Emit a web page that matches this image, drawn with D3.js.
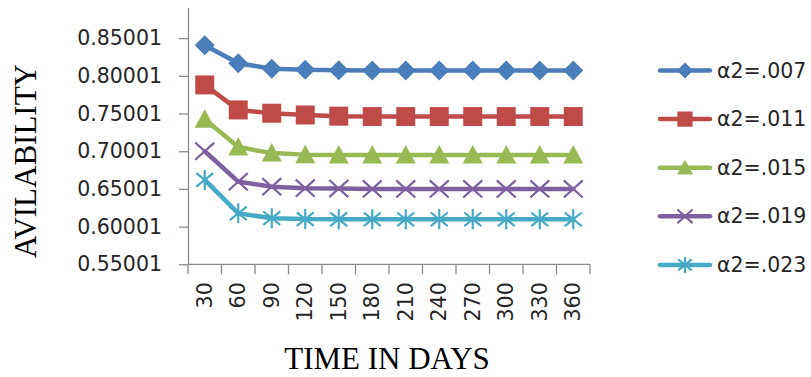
<!DOCTYPE html>
<html>
<head>
<meta charset="utf-8">
<script src="https://cdn.jsdelivr.net/npm/d3@7"></script>
<style>
  html, body { margin: 0; padding: 0; background: #fff; }
  svg { display: block; }
</style>
</head>
<body>
<svg id="chart" width="811" height="377"></svg>
<script>
// Availability over time for five values of α2
const days = [30, 60, 90, 120, 150, 180, 210, 240, 270, 300, 330, 360];
const a007 = [0.8405, 0.8167, 0.8095, 0.8080, 0.8075, 0.8072, 0.8070, 0.8070, 0.8070, 0.8070, 0.8070, 0.8070];
const a011 = [0.7880, 0.7548, 0.7504, 0.7481, 0.7465, 0.7460, 0.7460, 0.7460, 0.7460, 0.7460, 0.7460, 0.7460];
const a015 = [0.7425, 0.7055, 0.6975, 0.6955, 0.6950, 0.6950, 0.6950, 0.6950, 0.6950, 0.6950, 0.6950, 0.6950];
const a019 = [0.7000, 0.6596, 0.6530, 0.6510, 0.6505, 0.6500, 0.6500, 0.6500, 0.6500, 0.6500, 0.6500, 0.6500];
const a023 = [0.6620, 0.6176, 0.6112, 0.6100, 0.6098, 0.6097, 0.6097, 0.6097, 0.6097, 0.6097, 0.6097, 0.6097];
const seriesNames = ["α2=.007", "α2=.011", "α2=.015", "α2=.019", "α2=.023"];
const yTicks = [0.55001, 0.60001, 0.65001, 0.70001, 0.75001, 0.80001, 0.85001];

const seriesValues = [a007, a011, a015, a019, a023];
const colors = ["#4A7EBB", "#BE4B48", "#98B954", "#7D60A0", "#46AAC5"];
const shapes = ["diamond", "square", "triangle", "cross", "star"];

const svg = d3.select("#chart");

const plot = { left: 188, right: 590, top: 8, bottom: 264.3 };

const x = d3.scaleBand().domain(days).range([plot.left, plot.right]).padding(0);
const y = d3.scaleLinear().domain([0.55001, 0.89001]).range([plot.bottom, plot.top]);

const axisColor = "#8A8A8A";
const tickFont = "'DejaVu Sans', sans-serif";

// Y axis
const yAxis = svg.append("g")
  .attr("transform", `translate(${plot.left},0)`)
  .call(d3.axisLeft(y).tickValues(yTicks).tickSize(9).tickPadding(17)
    .tickFormat(d => d.toFixed(5)));
yAxis.select(".domain").remove();
yAxis.append("line")
  .attr("x1", 0.5).attr("x2", 0.5)
  .attr("y1", plot.top).attr("y2", plot.bottom)
  .attr("stroke", axisColor).attr("stroke-width", 1.3);
yAxis.selectAll(".tick line").attr("stroke", axisColor).attr("stroke-width", 1.3);
yAxis.selectAll(".tick text")
  .attr("fill", "#262626")
  .style("font-family", tickFont)
  .style("font-size", "20.5px");

// X axis: ticks sit on the category boundaries
const xAxis = svg.append("g")
  .attr("transform", `translate(0,${plot.bottom})`)
  .call(d3.axisBottom(x).tickSize(0).tickPadding(0));
xAxis.select(".domain").remove();
xAxis.append("line")
  .attr("x1", plot.left).attr("x2", plot.right)
  .attr("y1", 0).attr("y2", 0)
  .attr("stroke", axisColor).attr("stroke-width", 1.3);
const bounds = days.map(d => x(d)).concat([x(days[days.length - 1]) + x.bandwidth()]);
xAxis.selectAll(".boundary")
  .data(bounds)
  .join("line")
  .attr("class", "boundary")
  .attr("x1", d => d).attr("x2", d => d)
  .attr("y1", 0).attr("y2", 10)
  .attr("stroke", axisColor).attr("stroke-width", 1.3);
xAxis.selectAll(".tick")
  .attr("transform", d => `translate(${x(d) + x.bandwidth() / 2},0)`);
xAxis.selectAll(".tick text")
  .attr("transform", "rotate(-90)")
  .attr("x", -18).attr("y", 0).attr("dy", "0.35em")
  .attr("text-anchor", "end")
  .attr("fill", "#262626")
  .style("font-family", tickFont)
  .style("font-size", "20.5px");

// Marker drawing
function drawMarker(g, shape, color, s) {
  const h = s / 2;
  if (shape === "diamond") {
    g.append("path").attr("d", `M0,${-h}L${h},0L0,${h}L${-h},0Z`).attr("fill", color);
  } else if (shape === "square") {
    g.append("rect").attr("x", -h * 0.95).attr("y", -h * 0.95)
      .attr("width", s * 0.95).attr("height", s * 0.95).attr("fill", color);
  } else if (shape === "triangle") {
    g.append("path").attr("d", `M0,${-h}L${h},${h * 0.85}L${-h},${h * 0.85}Z`).attr("fill", color);
  } else if (shape === "cross") {
    const k = h * 0.95;
    g.append("path").attr("d", `M${-k},${-k * 0.9}L${k},${k * 0.9}M${-k},${k * 0.9}L${k},${-k * 0.9}`)
      .attr("stroke", color).attr("stroke-width", 2.2).attr("fill", "none");
  } else if (shape === "star") {
    const k = h * 0.85;
    g.append("path").attr("d", `M${-k},${-k * 0.8}L${k},${k * 0.8}M${-k},${k * 0.8}L${k},${-k * 0.8}M0,${-h}L0,${h}`)
      .attr("stroke", color).attr("stroke-width", 2.2).attr("fill", "none");
  }
}

// Series lines and markers
const line = d3.line()
  .x((d, i) => x(days[i]) + x.bandwidth() / 2)
  .y(d => y(d));

seriesValues.forEach((vals, si) => {
  const g = svg.append("g").attr("class", "series");
  g.append("path")
    .datum(vals)
    .attr("d", line)
    .attr("fill", "none")
    .attr("stroke", colors[si])
    .attr("stroke-width", 4.5)
    .attr("stroke-linejoin", "round")
    .attr("stroke-linecap", "round");
  vals.forEach((v, i) => {
    const m = g.append("g")
      .attr("transform", `translate(${x(days[i]) + x.bandwidth() / 2},${y(v)})`);
    drawMarker(m, shapes[si], colors[si], 20);
  });
});

// Legend
const legend = svg.append("g").attr("class", "legend");
seriesNames.forEach((name, si) => {
  const ly = 70.5 + si * 48.6;
  const row = legend.append("g").attr("transform", `translate(0,${ly})`);
  row.append("line")
    .attr("x1", 660).attr("x2", 710)
    .attr("stroke", colors[si]).attr("stroke-width", 4.5)
    .attr("stroke-linecap", "round");
  const m = row.append("g").attr("transform", "translate(685,0)");
  drawMarker(m, shapes[si], colors[si], 16);
  row.append("text")
    .attr("x", 717).attr("y", 0).attr("dy", "0.35em")
    .attr("fill", "#262626")
    .style("font-family", tickFont)
    .style("font-size", "20.5px")
    .text(name);
});

// Axis titles
svg.append("text")
  .attr("transform", "translate(36,161) rotate(-90)")
  .attr("text-anchor", "middle")
  .attr("fill", "#000")
  .style("font-family", "'Liberation Serif', 'Times New Roman', serif")
  .style("font-size", "31px")
  .text("AVILABILITY");

svg.append("text")
  .attr("x", 387).attr("y", 369)
  .attr("text-anchor", "middle")
  .attr("fill", "#000")
  .style("font-family", "'Liberation Serif', 'Times New Roman', serif")
  .style("font-size", "31px")
  .text("TIME IN DAYS");
</script>
</body>
</html>
